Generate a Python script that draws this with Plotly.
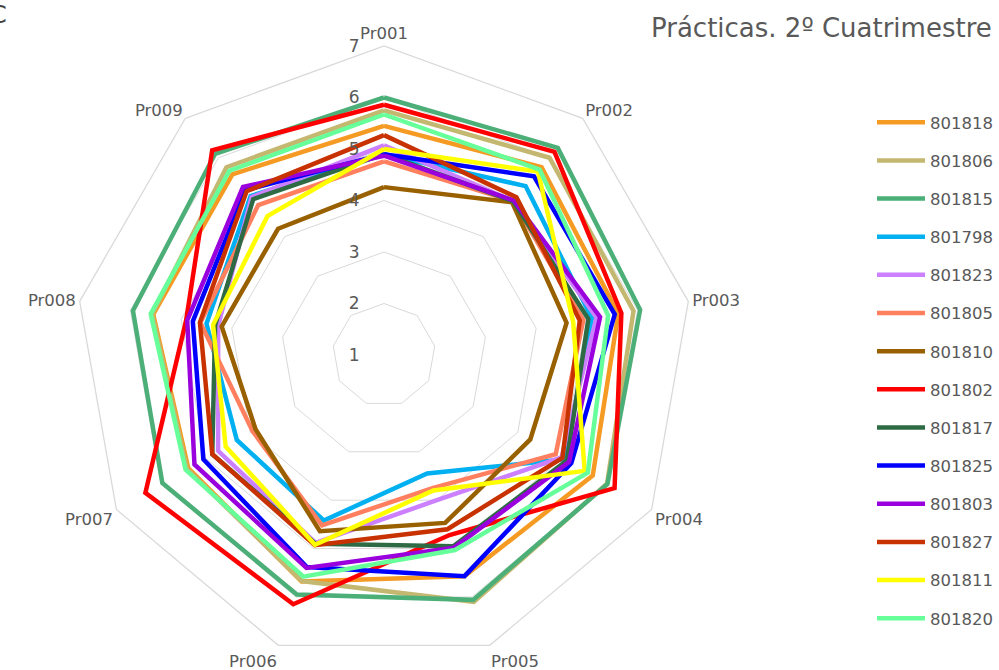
import plotly.graph_objects as go

W, H = 999, 670

practicas = ["Pr001", "Pr002", "Pr003", "Pr004", "Pr005", "Pr006", "Pr007", "Pr008", "Pr009"]

alumnos = ["801818", "801806", "801815", "801798", "801823", "801805", "801810",
           "801802", "801817", "801825", "801803", "801827", "801811", "801820"]

colores = ["#F59A23", "#C4B76F", "#4CAF78", "#00B0F0", "#CC80FF", "#FF7F5F", "#996000",
           "#FF0000", "#2E6B45", "#0000FF", "#9900DD", "#C83200", "#FFFF00", "#66FF99"]

# notas por alumno, Pr001..Pr009
n_801818 = [5.45, 5.76, 5.62, 5.68, 5.57, 5.68, 5.39, 5.55, 5.58]
n_801806 = [5.75, 6.00, 5.92, 6.00, 6.10, 5.67, 5.42, 5.57, 5.76]
n_801815 = [6.00, 6.25, 6.05, 6.01, 6.06, 5.95, 5.97, 5.95, 6.10]
n_801798 = [4.90, 5.28, 5.10, 5.05, 3.45, 4.42, 4.30, 4.50, 5.03]
n_801823 = [5.07, 4.90, 5.19, 4.98, 4.00, 4.88, 4.72, 4.27, 5.00]
n_801805 = [4.76, 4.90, 4.93, 4.85, 3.75, 4.52, 3.95, 4.62, 4.80]
n_801810 = [4.26, 4.87, 4.60, 4.28, 4.47, 4.64, 3.88, 4.20, 4.20]
n_801802 = [5.86, 6.15, 5.68, 6.17, 4.72, 6.15, 6.35, 4.90, 6.19]
n_801817 = [4.90, 4.90, 5.03, 5.10, 4.95, 4.90, 4.85, 4.33, 4.95]
n_801825 = [4.90, 5.53, 5.55, 5.20, 5.57, 5.38, 5.05, 4.77, 5.18]
n_801803 = [4.87, 4.92, 5.26, 5.15, 4.98, 5.40, 5.25, 4.88, 5.26]
n_801827 = [5.27, 5.00, 4.86, 5.00, 4.60, 4.93, 4.85, 4.63, 5.15]
n_801811 = [5.00, 5.65, 4.73, 5.50, 3.80, 4.92, 4.55, 4.37, 4.52]
n_801820 = [5.67, 5.70, 5.42, 5.57, 5.03, 5.58, 5.45, 5.60, 5.67]

notas = [n_801818, n_801806, n_801815, n_801798, n_801823, n_801805, n_801810,
         n_801802, n_801817, n_801825, n_801803, n_801827, n_801811, n_801820]

FONT = "DejaVu Sans"
GRIS = "#595959"
GRID = "#D9D9D9"

fig = go.Figure()
for nombre, vals, col in zip(alumnos, notas, colores):
    fig.add_trace(go.Scatterpolar(
        r=vals + vals[:1],
        theta=practicas + practicas[:1],
        mode="lines",
        name=nombre,
        legendgroup=nombre,
        line=dict(color=col, width=4.5),
    ))

fig.update_layout(
    width=W, height=H,
    margin=dict(l=0, r=0, t=0, b=0, autoexpand=False),
    paper_bgcolor="white",
    plot_bgcolor="white",
    font=dict(family=FONT, color=GRIS, size=17),
    polar=dict(
        domain=dict(x=[75 / W, 693 / W], y=[1 - 664 / H, 1 - 46 / H]),
        gridshape="linear",
        bgcolor="white",
        radialaxis=dict(
            range=[1, 7], tickvals=[1, 2, 3, 4, 5, 6, 7],
            angle=90, tickangle=90, side="counterclockwise",
            showline=False, gridcolor=GRID, gridwidth=1.3,
            ticks="outside", ticklen=18, tickcolor="rgba(0,0,0,0)",
            tickfont=dict(family=FONT, size=17, color=GRIS),
        ),
        angularaxis=dict(
            rotation=90, direction="clockwise",
            showgrid=False, showline=True, linecolor=GRID, linewidth=1.3,
            ticks="",
            tickfont=dict(family=FONT, size=16.5, color=GRIS),
        ),
    ),
    legend=dict(
        x=872 / W, xanchor="left", y=1 - 105 / H, yanchor="top",
        font=dict(family=FONT, size=16.5, color=GRIS),
        tracegroupgap=13.7, itemwidth=48,
        bgcolor="rgba(0,0,0,0)",
    ),
    annotations=[
        dict(text="Prácticas. 2º Cuatrimestre", xref="paper", yref="paper",
             x=994 / W, y=1 - 28 / H, xanchor="right", yanchor="middle",
             showarrow=False, font=dict(family=FONT, size=26, color=GRIS)),
        dict(text="C", xref="paper", yref="paper",
             x=-12 / W, y=1 - 15 / H, xanchor="left", yanchor="middle",
             showarrow=False, font=dict(family=FONT, size=24, color="#404040")),
    ],
)

# la página no debe tener el margen por defecto del body
fig.write_html("out.html", config={"displayModeBar": False},
               post_script="document.body.style.margin='0px';")
